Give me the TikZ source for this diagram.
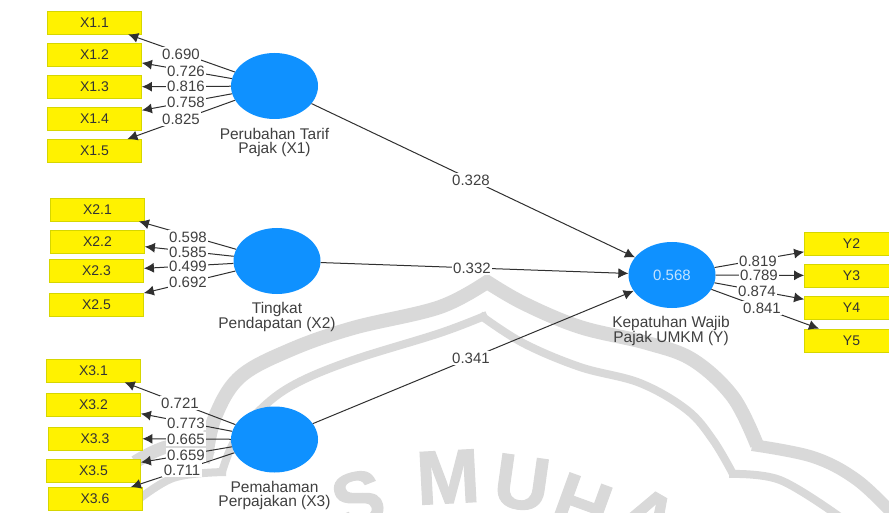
\documentclass[tikz,border=0pt]{standalone}
\usepackage{fontspec}
\setmainfont{Liberation Sans}
\newfontfamily\wmfont[FakeBold=1.6]{Liberation Sans Bold}
\usetikzlibrary{shapes.geometric,arrows.meta}
\definecolor{wmgray}{HTML}{D9D9D9}
\definecolor{latentblue}{HTML}{0F91FF}
\definecolor{linegray}{HTML}{303030}
\definecolor{textgray}{HTML}{404040}
\definecolor{boxedge}{HTML}{D6D600}
\tikzset{
  x=1pt,y=-1pt,
  indicator/.style={draw=boxedge,fill=yellow,line width=0.8pt,minimum width=94pt,minimum height=23pt,inner sep=0pt,text=black!80,font=\fontsize{14}{16}\selectfont},
  latent/.style={ellipse,fill=latentblue,minimum width=87pt,minimum height=66pt,inner sep=0pt},
  conn/.style={draw=linegray,line width=1pt,-{Latex[length=10pt,width=10pt]}},
  coef/.style={fill=white,inner sep=1.5pt,text=textgray,font=\fontsize{15}{16}\selectfont},
  caption/.style={align=center,inner sep=0pt,text=textgray,font=\fontsize{15.5}{14.7}\selectfont},
  wmband/.style={draw=wmgray,line join=miter,line cap=butt},
  wmletter/.style={text=wmgray,inner sep=0pt,font=\fontsize{76}{80}\wmfont\selectfont},
}
\begin{document}
\begin{tikzpicture}
\useasboundingbox (0,0) rectangle (889,513);
\clip (0,0) rectangle (889,513);
\fill[white] (0,0) rectangle (889,513);
% watermark
\draw[wmband,line width=14pt] plot[smooth,tension=.6] coordinates {(490,280)(440,307)(353,328)(290,350)(240,377)(215,417)(206,458)};
\draw[wmband,line width=13pt] plot[smooth,tension=.6] coordinates {(212,458)(172,446)(135,462)};
\draw[wmband,line width=14pt] plot[smooth,tension=.6] coordinates {(484,280)(523,303)(580,327)(647,343)(693,360)(733,397)(757,445)};
\draw[wmband,line width=12pt] plot[smooth,tension=.6] coordinates {(752,445)(813,457)(857,480)(895,516)};
\draw[wmband,line width=8pt] plot[smooth,tension=.6] coordinates {(487,315)(440,333)(353,360)(297,383)(263,407)(235,440)(222,472)};
\draw[wmband,line width=8pt] plot[smooth,tension=.6] coordinates {(226,472)(173,478)(130,506)};
\draw[wmband,line width=8pt] plot[smooth,tension=.6] coordinates {(480,315)(523,343)(580,367)(640,383)(687,410)(713,440)(733,474)};
\draw[wmband,line width=8pt] plot[smooth,tension=.6] coordinates {(729,474)(780,480)(840,517)};
\node[wmletter,rotate=14]  (wmS) at (358,499) {S};
\node[wmletter,rotate=3]   (wmM) at (448,477) {M};
\node[wmletter,rotate=-8] (wmU) at (522,483) {U};
\node[wmletter,rotate=-20] (wmH) at (582,505) {H};
\node[wmletter,rotate=-30] (wmA) at (648,518) {A};
% latent variables
\node[latent] (c1) at (274.5,86) {};
\node[latent] (c2) at (277,261) {};
\node[latent] (c3) at (274.5,439.5) {};
\node[latent,text=white!75!latentblue,font=\fontsize{15}{16}\selectfont] (cy) at (672,275) {0.568};
% indicators
\node[indicator] (x11) at (94.5,22.5) {X1.1};
\node[indicator] (x12) at (94.5,54.7) {X1.2};
\node[indicator] (x13) at (94.5,87) {X1.3};
\node[indicator] (x14) at (94.5,119) {X1.4};
\node[indicator] (x15) at (94.5,151) {X1.5};
\node[indicator] (x21) at (97.5,209.5) {X2.1};
\node[indicator] (x22) at (97.5,241.5) {X2.2};
\node[indicator] (x23) at (96.5,271) {X2.3};
\node[indicator] (x25) at (96.5,304.5) {X2.5};
\node[indicator] (x31) at (93.5,370.5) {X3.1};
\node[indicator] (x32) at (93.5,404.5) {X3.2};
\node[indicator] (x33) at (95,438.5) {X3.3};
\node[indicator] (x35) at (93.5,470.5) {X3.5};
\node[indicator] (x36) at (95,499) {X3.6};
\node[indicator] (y2) at (851.5,243.5) {Y2};
\node[indicator] (y3) at (851.5,275.5) {Y3};
\node[indicator] (y4) at (851.5,308) {Y4};
\node[indicator] (y5) at (851.5,340.5) {Y5};
% connectors
\foreach \a/\b in {c1/x11,c1/x12,c1/x13,c1/x14,c1/x15,
                   c2/x21,c2/x22,c2/x23,c2/x25,
                   c3/x31,c3/x32,c3/x33,c3/x35,c3/x36,
                   cy/y2,cy/y3,cy/y4,cy/y5,
                   c1/cy,c2/cy,c3/cy}
  \draw[conn] (\a) -- (\b);
% coefficients
\node[coef] (l11) at (181,54) {0.690};
\node[coef] (l12) at (186,71) {0.726};
\node[coef] (l13) at (186,86) {0.816};
\node[coef] (l14) at (186,102) {0.758};
\node[coef] (l15) at (181,119) {0.825};
\node[coef] (l21) at (188,237) {0.598};
\node[coef] (l22) at (188,252) {0.585};
\node[coef] (l23) at (188,266) {0.499};
\node[coef] (l25) at (188,282) {0.692};
\node[coef] (l31) at (180,403) {0.721};
\node[coef] (l32) at (186,423) {0.773};
\node[coef] (l33) at (186,439) {0.665};
\node[coef] (l35) at (186,455) {0.659};
\node[coef] (l36) at (182,470) {0.711};
\node[coef] (ly2) at (758,261) {0.819};
\node[coef] (ly3) at (759,275) {0.789};
\node[coef] (ly4) at (757,291) {0.874};
\node[coef] (ly5) at (762,308) {0.841};
\node[coef] (p1) at (471,180) {0.328};
\node[coef] (p2) at (472,268) {0.332};
\node[coef] (p3) at (471,358) {0.341};
% captions
\node[caption] (t1) at (274.5,142.5) {Perubahan Tarif\\Pajak (X1)};
\node[caption] (t2) at (277,317) {Tingkat\\Pendapatan (X2)};
\node[caption] (t3) at (274.5,495.5) {Pemahaman\\Perpajakan (X3)};
\node[caption] (t4) at (671,331) {Kepatuhan Wajib\\Pajak UMKM (Y)};
\end{tikzpicture}
\end{document}
